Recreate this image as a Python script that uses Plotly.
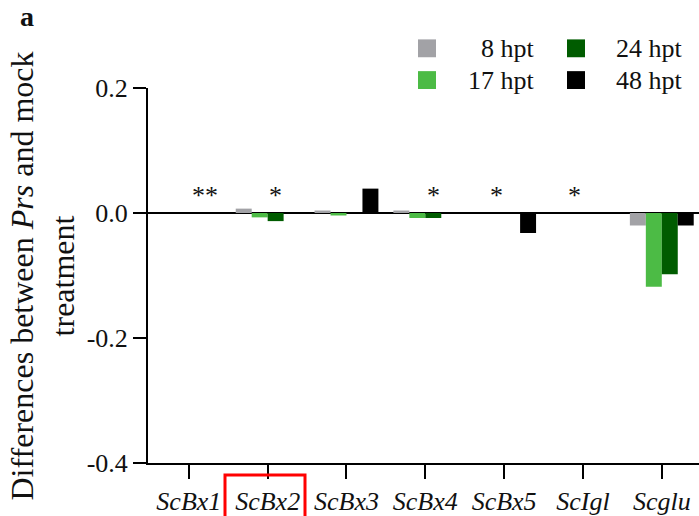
import plotly.graph_objects as go

# Gene expression differences (Prs minus mock) per gene and time point
genes = ["ScBx1", "ScBx2", "ScBx3", "ScBx4", "ScBx5", "ScIgl", "Scglu"]
series_names = ["8 hpt", "17 hpt", "24 hpt", "48 hpt"]
hpt8 = [0.0, 0.007, 0.004, 0.004, 0.0, 0.0, -0.020]
hpt17 = [0.0, -0.007, -0.004, -0.008, 0.0, 0.0, -0.118]
hpt24 = [0.0, -0.013, 0.0, -0.008, 0.0, 0.0, -0.098]
hpt48 = [0.0, 0.0, 0.039, 0.0, -0.032, 0.0, -0.020]
series_values = [hpt8, hpt17, hpt24, hpt48]
colors = ["#a2a2a6", "#4cbb45", "#005c00", "#000000"]

# Significance marks and the bar position (series index) they sit over
sig_labels = ["**", "*", "", "*", "*", "*", ""]
sig_over = [2.5, 2, None, 2, 1, 1, None]
sig_level = 0.028

y_tickvals = [-0.4, -0.2, 0.0, 0.2]
y_ticktext = ["-0.4", "-0.2", "0.0", "0.2"]

W, H = 699, 516
ML, MR, MT, MB = 148, 0, 88, 50
PW, PH = W - ML - MR, H - MT - MB
FONT = "Liberation Serif"
TXT = "#111111"
BARGAP = 0.19


def px_x(px):
    return (px - ML) / PW


def px_y(py):
    return (H - MB - py) / PH


fig = go.Figure()
for name, vals, col in zip(series_names, series_values, colors):
    fig.add_trace(go.Bar(
        x=list(range(len(genes))), y=vals, name=name,
        marker=dict(color=col, line=dict(width=0)),
        showlegend=False,
    ))

# significance asterisks placed over their bars
bar_w = (1 - BARGAP) / len(series_names)
annotations = []
for i, (lab, pos) in enumerate(zip(sig_labels, sig_over)):
    if not lab:
        continue
    xoff = (pos - (len(series_names) - 1) / 2) * bar_w
    annotations.append(dict(
        x=i + xoff, y=sig_level, xref="x", yref="y", text=lab,
        showarrow=False, xanchor="center", yanchor="middle",
        font=dict(family=FONT, size=26, color=TXT),
    ))

# legend: two columns of swatches with right-aligned labels
shapes = []
col_sq = [418, 567]
col_txt = [537, 685]
row_mid = [48, 80]
for k, (name, col) in enumerate(zip(series_names, colors)):
    c, r = k // 2, k % 2
    shapes.append(dict(
        type="rect", xref="paper", yref="paper",
        x0=px_x(col_sq[c]), x1=px_x(col_sq[c] + 18),
        y0=px_y(row_mid[r] + 9), y1=px_y(row_mid[r] - 9),
        fillcolor=col, line=dict(width=0),
    ))
    annotations.append(dict(
        x=px_x(col_txt[c]), y=px_y(row_mid[r]), xref="paper", yref="paper",
        text=name, showarrow=False, xanchor="right", yanchor="middle",
        font=dict(family=FONT, size=26, color=TXT),
    ))

# highlight box around the ScBx2 label
shapes.append(dict(
    type="rect", xref="paper", yref="paper",
    x0=px_x(225), x1=px_x(305), y0=px_y(525), y1=px_y(478),
    line=dict(color="#ff0000", width=3), fillcolor="rgba(0,0,0,0)",
))

# y axis title and panel letter
annotations.append(dict(
    x=px_x(43), y=px_y(278), xref="paper", yref="paper",
    text="Differences between <i>Prs</i> and mock<br>treatment",
    textangle=-90, showarrow=False, xanchor="center", yanchor="middle",
    font=dict(family=FONT, size=32, color=TXT),
))
annotations.append(dict(
    x=px_x(27), y=px_y(16), xref="paper", yref="paper",
    text="<b>a</b>", showarrow=False, xanchor="center", yanchor="middle",
    font=dict(family=FONT, size=28, color=TXT),
))

fig.update_layout(
    width=W, height=H,
    margin=dict(l=ML, r=MR, t=MT, b=MB, pad=0),
    paper_bgcolor="white", plot_bgcolor="white",
    barmode="group", bargap=BARGAP, bargroupgap=0,
    showlegend=False,
    annotations=annotations, shapes=shapes,
    font=dict(family=FONT, color=TXT),
)
fig.update_xaxes(
    range=[-0.518, 6.472],
    tickvals=list(range(len(genes))), ticktext=genes,
    tickfont=dict(family=FONT, size=26, style="italic", color=TXT),
    showline=True, linecolor="black", linewidth=2,
    ticks="outside", ticklen=14, tickwidth=2, tickcolor="black",
    showgrid=False, zeroline=False,
)
fig.update_yaxes(
    range=[-0.4, 0.2],
    tickvals=y_tickvals, ticktext=y_ticktext,
    tickfont=dict(family=FONT, size=26, color=TXT),
    showline=True, linecolor="black", linewidth=2,
    ticks="outside", ticklen=13, tickwidth=2, tickcolor="black",
    showgrid=False, zeroline=True, zerolinecolor="black", zerolinewidth=2,
)

fig.write_html("out.html")
